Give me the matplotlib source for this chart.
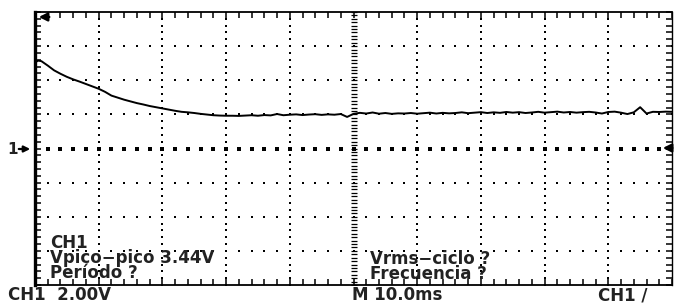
import numpy as np
import matplotlib
matplotlib.use("Agg")
import matplotlib.pyplot as plt
from matplotlib.patches import FancyArrowPatch

# captura do osciloscopio: CH1 2.00 V/div, base de tempo 10.0 ms/div
tempo_ms = [0, 0.5, 1, 2, 3, 4, 5, 6, 7, 8, 9, 10, 11, 12, 13, 14, 15, 16, 17, 18,
            19, 20, 21, 22, 23, 24, 25, 26, 27, 28, 29, 30,
            31, 32, 33, 34, 35, 36, 37, 38, 39, 40, 41, 42, 43, 44, 45, 46, 47, 48,
            49, 50, 51, 52, 53, 54, 55, 56, 57, 58, 59, 60, 61, 62, 63, 64, 65, 66,
            67, 68, 69, 70, 71, 72, 73, 74, 75, 76, 77, 78, 79, 80, 81, 82, 83, 84,
            85, 86, 87, 88, 89, 90, 91, 92, 93, 94, 95, 96, 97, 98, 99, 100]
tensao_v = [5.05, 5.15, 5.12, 4.86, 4.58, 4.38, 4.20, 4.05, 3.92, 3.78, 3.64, 3.50,
            3.32, 3.10, 2.98, 2.86, 2.76, 2.66, 2.58, 2.49, 2.42, 2.35, 2.28, 2.21,
            2.15, 2.12, 2.08, 2.03, 1.99, 1.95, 1.93, 1.92,
            1.92, 1.91, 1.93, 1.95, 1.92, 1.96, 1.94, 2.02, 1.95, 1.98, 2.00, 1.96,
            1.99, 2.01, 1.97, 2.00, 1.98, 2.02, 1.85, 2.03, 2.09, 2.05, 2.11, 2.04,
            2.08, 2.03, 2.06, 2.05, 2.08, 2.04, 2.07, 2.10, 2.05, 2.09, 2.06, 2.08,
            2.12, 2.07, 2.10, 2.13, 2.08, 2.12, 2.09, 2.14, 2.10, 2.13, 2.08, 2.11,
            2.15, 2.10, 2.13, 2.16, 2.11, 2.14, 2.10, 2.13, 2.15, 2.11, 2.05, 2.14,
            2.16, 2.10, 2.02, 2.12, 2.42, 2.05, 2.15, 2.14, 2.16, 2.15]

medidas_esq = ["CH1", "Vpico\u2212pico 3.44V", "Período ?"]
medidas_dir = ["Vrms\u2212ciclo ?", "Frecuencia ?"]
rodape = ["CH1  2.00V", "M 10.0ms", "CH1 /"]

W, H = 675, 306


def fx(px):
    return px / W


def fy(py):
    return 1 - py / H


fig = plt.figure(figsize=(W / 100, H / 100), dpi=100)
ax = fig.add_axes([fx(35), fy(285), fx(637), 273 / H])
ax.set_xlim(0, 100)
ax.set_ylim(-8, 8)

# reticula pontilhada
for xg in range(10, 100, 10):
    if xg == 50:
        yy = np.arange(-8, 8.01, 0.2)
        ax.scatter(np.full(len(yy), xg), yy, marker='_', s=16, linewidths=0.9, color='black', zorder=2)
    else:
        yy = np.arange(-8, 8.01, 0.4)
        ax.scatter(np.full(len(yy), xg), yy, marker='s', s=3.2, linewidths=0, color='black', zorder=2)
xx = np.arange(0, 100.1, 2)
for yg in [-6, -4, -2, 2, 4, 6]:
    ax.scatter(xx, np.full(len(xx), yg), marker='s', s=3.5, linewidths=0, color='black', zorder=2)
ax.scatter(xx, np.zeros(len(xx)), marker='s', s=7, linewidths=0, color='black', zorder=2)

ax.plot(tempo_ms, tensao_v, color='black', linewidth=1.4, zorder=3)

ax.set_xticks(np.arange(0, 100.1, 2))
ax.set_yticks(np.arange(-8, 8.01, 0.4))
ax.tick_params(direction='in', length=4, width=1.1, top=True, right=True,
               labelbottom=False, labelleft=False, colors='black')
ax.spines['left'].set_linewidth(2.4)
ax.spines['top'].set_linewidth(1.3)
ax.spines['bottom'].set_linewidth(1.3)
ax.spines['right'].set_linewidth(1.0)

fs = 12
estilo = dict(fontsize=fs, fontweight='bold', color='#222222')
ax.text(15 / 637, (285 - 278) / 273, "\n".join(medidas_esq), transform=ax.transAxes,
        va='baseline', ha='left', linespacing=0.78, **estilo)
ax.text((370 - 35) / 637, (285 - 279) / 273, "\n".join(medidas_dir), transform=ax.transAxes,
        va='baseline', ha='left', linespacing=0.78, **estilo)

fig.text(fx(8), fy(300), rodape[0], va='baseline', ha='left', **estilo)
fig.text(fx(352), fy(300), rodape[1], va='baseline', ha='left', **estilo)
fig.text(fx(598), fy(300), rodape[2], va='baseline', ha='left', **estilo)

# marcadores de canal e disparo
fig.text(fx(7), fy(149), "1", fontsize=11, fontweight='bold', color='#222222', va='center', ha='left')
fig.patches.append(FancyArrowPatch(
    (fx(16), fy(149)), (fx(33), fy(149)), transform=fig.transFigure,
    arrowstyle='-|>', mutation_scale=9, linewidth=1.6, color='black'))
fig.patches.append(FancyArrowPatch(
    (fx(52), fy(17)), (fx(36), fy(17)), transform=fig.transFigure,
    arrowstyle='-|>', mutation_scale=12, linewidth=1.8, color='black'))
fig.patches.append(FancyArrowPatch(
    (fx(675), fy(148)), (fx(660), fy(148)), transform=fig.transFigure,
    arrowstyle='-|>', mutation_scale=12, linewidth=1.8, color='black'))

fig.savefig("out.png", dpi=100)
plt.close(fig)
